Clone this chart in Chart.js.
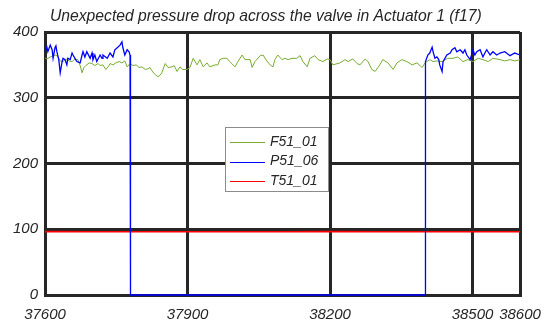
<!DOCTYPE html>
<html><head><meta charset="utf-8">
<script src="https://cdn.jsdelivr.net/npm/chart.js@4.4.1/dist/chart.umd.min.js"></script>
<style>html,body{margin:0;padding:0;background:#fff;}#wrap{width:544px;height:324px;position:relative;}</style>
</head><body><div id="wrap"><canvas id="c" width="544" height="324"></canvas></div>
<script>
const chartTitle = 'Unexpected pressure drop across the valve in Actuator 1 (f17)';
const xTicks = [37600, 37900, 38200, 38500, 38600];
const yTicks = [0, 100, 200, 300, 400];
const seriesNames = ['F51_01', 'P51_06', 'T51_01'];

const greenX = [
37600,37604,37611,37617,37623,37627,37632,37638,37644,37651,
37657,37663,37669,37674,37678,37682,37686,37693,37699,37705,
37712,37716,37722,37728,37733,37737,37743,37749,37756,37762,
37768,37773,37779,37785,37792,37798,37804,37811,37817,37821,
37825,37832,37838,37842,37846,37853,37859,37867,37872,37878,
37884,37890,37899,37905,37912,37920,37926,37933,37941,37947,
37958,37964,37968,37975,37983,37989,38000,38006,38015,38021,
38032,38036,38042,38053,38059,38067,38074,38080,38084,38090,
38099,38105,38112,38120,38130,38137,38143,38152,38158,38168,
38175,38185,38194,38200,38206,38221,38232,38238,38248,38257,
38263,38274,38280,38288,38295,38305,38311,38322,38333,38341,
38351,38362,38373,38383,38394,38400,38410,38417,38425,38436,
38448,38459,38469,38480,38490,38501,38512,38522,38533,38543,
38558,38568,38579,38589,38600];
const greenY = [
360.5,359,362,364,365,362,356,355,359,356,
355,359,358,349,338,346,349,353,352,349,
352,349,350,343,347,352,350,353,355,353,
356,347,352,349,350,346,347,343,344,346,
341,335,332,334,338,352,346,347,349,340,
347,343,343,346,360,350,358,347,353,347,
350,350,358,360,360,355,347,355,365,358,
358,346,355,364,365,356,350,347,358,365,
358,360,358,360,360,364,355,347,360,364,
358,355,359,358,350,353,358,355,359,352,
350,359,355,343,340,350,358,353,343,353,
358,355,350,353,346,353,358,355,356,355,
360,360,362,355,358,355,360,358,355,360,
358,356,358,356,358];

const blueX = [
37600,37604,37606,37611,37615,37617,37621,37623,37625,37629,
37632,37636,37638,37642,37646,37648,37653,37657,37659,37663,
37667,37674,37678,37680,37684,37688,37695,37699,37701,37705,
37709,37716,37720,37722,37731,37737,37743,37747,37752,37758,
37762,37764,37768,37773,37777,37779,37780,38400,38401,38406,
38410,38415,38417,38421,38425,38429,38431,38436,38438,38446,
38453,38457,38463,38467,38474,38480,38484,38488,38495,38501,
38505,38509,38516,38522,38526,38530,38537,38543,38551,38558,
38568,38579,38589,38600];
const blueY = [
370,377,370,380,373,360,376,379,370,358,
338,355,360,358,350,360,358,368,365,360,
355,353,365,370,362,370,360,368,358,365,
355,365,360,365,360,368,362,373,376,380,
385,376,365,373,370,365,0,0,355,365,
368,377,370,360,362,358,350,340,355,365,
368,373,376,370,373,368,373,365,358,373,
365,370,373,362,368,373,365,370,365,368,
370,364,368,365];

const redX = [37600,37700,37800,37900,38000,38100,38200,38300,38400,38500,38600];
const redY = [96.4,96.2,96.3,96.1,96.3,96.2,96.4,96.3,96.1,96.3,96.2];

const toPts = (xs, ys) => xs.map((x, i) => ({x: x, y: ys[i]}));
const FONT = '"Liberation Sans", Arial, sans-serif';
const INK = '#262626';

const titleAndLegend = {
  id: 'titleAndLegend',
  afterDraw(chart) {
    const ctx = chart.ctx;
    ctx.save();
    ctx.font = 'italic 15.7px ' + FONT;
    ctx.fillStyle = INK;
    ctx.textBaseline = 'middle';
    ctx.textAlign = 'left';
    ctx.fillText(chartTitle, 50, 16.5);

    const bx = 225.5, by = 127.5, bw = 103, bh = 64;
    ctx.fillStyle = '#fff';
    ctx.fillRect(bx, by, bw, bh);
    ctx.strokeStyle = '#8c8c8c';
    ctx.lineWidth = 1;
    ctx.strokeRect(bx, by, bw, bh);
    ctx.font = 'italic 14px ' + FONT;
    chart.data.datasets.forEach((ds, i) => {
      const y = 142 + i * 19.5;
      ctx.strokeStyle = ds.borderColor;
      ctx.lineWidth = 1;
      ctx.beginPath();
      ctx.moveTo(230, Math.round(y) + 0.5);
      ctx.lineTo(265, Math.round(y) + 0.5);
      ctx.stroke();
      ctx.fillStyle = INK;
      ctx.fillText(ds.label, 270, y);
    });
    ctx.restore();
  }
};

Chart.defaults.font.family = FONT;
Chart.defaults.font.style = 'italic';
Chart.defaults.color = INK;

const gridOpts = {color: INK, lineWidth: 3, drawTicks: false};
const borderOpts = {color: INK, width: 3};

new Chart(document.getElementById('c'), {
  type: 'line',
  data: {
    datasets: [
      {label: seriesNames[0], data: toPts(greenX, greenY), borderColor: '#77AC30', borderWidth: 1, pointRadius: 0, tension: 0, clip: false, order: 1},
      {label: seriesNames[1], data: toPts(blueX, blueY), borderColor: '#0000FF', borderWidth: 1.3, pointRadius: 0, tension: 0, clip: false, order: 0},
      {label: seriesNames[2], data: toPts(redX, redY), borderColor: '#FF0000', borderWidth: 1.6, pointRadius: 0, tension: 0, clip: false, order: 2}
    ]
  },
  options: {
    responsive: false,
    animation: false,
    events: [],
    layout: {padding: {left: 0, right: 24, top: 32, bottom: 0}},
    plugins: {
      legend: {display: false},
      tooltip: {enabled: false},
      title: {display: false}
    },
    scales: {
      x: {
        type: 'linear', min: 37600, max: 38600,
        afterBuildTicks(s) { s.ticks = xTicks.map(v => ({value: v})); },
        afterFit(s) { s.height = 29; s.paddingLeft = 0; s.paddingRight = 0; },
        grid: gridOpts, border: borderOpts,
        ticks: {padding: 11, font: {size: 15, style: 'italic'}, maxRotation: 0, autoSkip: false, callback: v => String(v)}
      },
      y: {
        min: 0, max: 400,
        afterBuildTicks(s) { s.ticks = yTicks.map(v => ({value: v})); },
        afterFit(s) { s.width = 45; s.paddingTop = 0; s.paddingBottom = 0; },
        grid: gridOpts, border: borderOpts,
        ticks: {padding: 7, font: {size: 15, style: 'italic'}, callback: v => String(v)}
      }
    }
  },
  plugins: [titleAndLegend]
});
</script>
</body></html>
